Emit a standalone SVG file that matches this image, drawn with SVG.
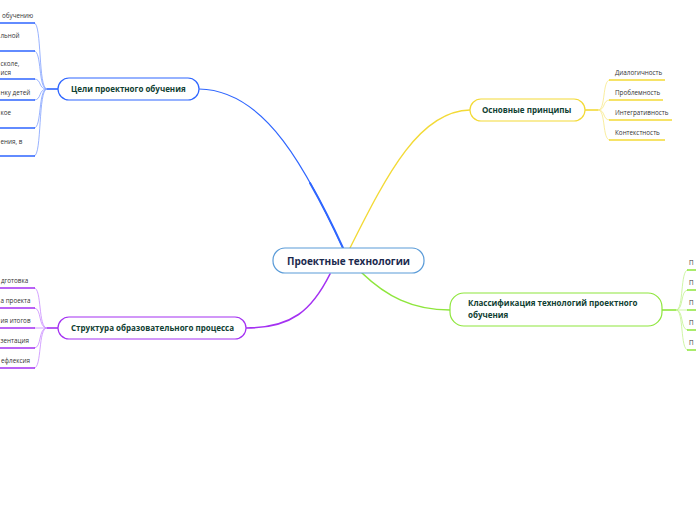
<svg xmlns="http://www.w3.org/2000/svg" width="696" height="520" viewBox="0 0 696 520">
<style>
  .bg{fill:#ffffff}
  .node{fill:#ffffff;stroke-width:1.2}
  .lbl{font-family:"Open Sans","Liberation Sans",sans-serif;font-weight:bold;font-size:8px;fill:#0f4032}
  .ctr{font-family:"Open Sans","Liberation Sans",sans-serif;font-weight:bold;font-size:10px;fill:#1b2a4e}
  .sm{font-family:"Open Sans","Liberation Sans",sans-serif;font-size:6.3px;fill:#333333}
  .main{fill:none;stroke-linecap:round}
  .br{fill:none;stroke-width:0.8}
  .ul{fill:none;stroke-width:1.6}
  .blue{stroke:#2f66ff}
  .blueL{stroke:#7f9fff}
  .purp{stroke:#a431f2}
  .purpL{stroke:#c98cff}
  .yel{stroke:#f3da36}
  .yelL{stroke:#f7e886}
  .grn{stroke:#8ee63c}
  .grnL{stroke:#c3f291}
</style>
<rect class="bg" x="0" y="0" width="696" height="520"/>
<g id="connectors">
  <path class="main blue" stroke-width="1.2" d="M199,89 C268,90 308,175 343,248"/>
  <path class="main blue" stroke-width="2" d="M310,183 C322,204 333,226 343,248"/>
  <path class="main yel" stroke-width="1.4" d="M350,248 C388,172 420,111 470,110"/>
  <path class="main purp" stroke-width="1.6" d="M330,274 C312,310 292,328 246,328"/>
  <path class="main grn" stroke-width="1.6" d="M362,273 C386,296 412,310 450,310"/>
  <!-- blue branches -->
  <path class="ul blue" d="M58,89 H47"/>
  <path class="br blueL" d="M47,89 C38,89 42,23 34,23"/>
  <path class="br blueL" d="M47,89 C38,89 42,51 34,51"/>
  <path class="br blueL" d="M47,89 C38,89 42,79 34,79"/>
  <path class="br blueL" d="M47,89 C38,89 42,100 34,100"/>
  <path class="br blueL" d="M47,89 C38,89 42,128 34,128"/>
  <path class="br blueL" d="M47,89 C38,89 42,156 34,156"/>
  <path class="ul blue" d="M0,23 H35 M0,51 H35 M0,79 H35 M0,100 H35 M0,128 H35 M0,156 H35"/>
  <!-- purple branches -->
  <path class="ul purp" d="M58,328 H47"/>
  <path class="br purpL" d="M47,328 C38,328 42,288 34,288"/>
  <path class="br purpL" d="M47,328 C38,328 42,308 34,308"/>
  <path class="br purpL" d="M47,328 H34"/>
  <path class="br purpL" d="M47,328 C38,328 42,348 34,348"/>
  <path class="br purpL" d="M47,328 C38,328 42,368 34,368"/>
  <path class="ul purp" d="M0,288 H35 M0,308 H35 M0,328 H35 M0,348 H35 M0,368 H35"/>
  <!-- yellow branches -->
  <path class="ul yel" d="M585,110 H598"/>
  <path class="br yelL" d="M598,110 C606,110 602,80 610,80"/>
  <path class="br yelL" d="M598,110 C606,110 602,100 610,100"/>
  <path class="br yelL" d="M598,110 C606,110 602,120 610,120"/>
  <path class="br yelL" d="M598,110 C606,110 602,140 610,140"/>
  <path class="ul yel" d="M609,80 H665 M609,100 H663 M609,120 H672 M609,140 H665"/>
  <!-- green branches -->
  <path class="ul grn" d="M662,310 H676"/>
  <path class="br grnL" d="M676,310 C684,310 680,270 688,270"/>
  <path class="br grnL" d="M676,310 C684,310 680,290 688,290"/>
  <path class="br grnL" d="M676,310 H688"/>
  <path class="br grnL" d="M676,310 C684,310 680,330 688,330"/>
  <path class="br grnL" d="M676,310 C684,310 680,350 688,350"/>
  <path class="ul grn" d="M687,270 H696 M687,290 H696 M687,310 H696 M687,330 H696 M687,350 H696"/>
</g>
<g id="center">
  <rect class="node" x="273" y="248" width="151" height="25" rx="12" stroke="#5a9bd8"/>
  <text class="ctr" x="348.5" y="264.5" text-anchor="middle">Проектные технологии</text>
</g>
<g id="goals">
  <rect class="node blue" x="58" y="78" width="141" height="22" rx="11"/>
  <text class="lbl" x="71" y="92">Цели проектного обучения</text>
</g>
<g id="goals-items">
  <text class="sm" x="2" y="18">обучению</text>
  <text class="sm" x="0.5" y="38">льной</text>
  <text class="sm" x="0.5" y="66">сколе,</text>
  <text class="sm" x="0.5" y="75">ися</text>
  <text class="sm" x="0.5" y="95">нку детей</text>
  <text class="sm" x="0.5" y="115">кое</text>
  <text class="sm" x="0.5" y="144">ения, в</text>
</g>
<g id="principles">
  <rect class="node yel" x="470" y="99" width="115" height="22" rx="11"/>
  <text class="lbl" x="482" y="113">Основные принципы</text>
</g>
<g id="principles-items">
  <text class="sm" x="615" y="75">Диалогичность</text>
  <text class="sm" x="615" y="95">Проблемность</text>
  <text class="sm" x="615" y="115">Интегративность</text>
  <text class="sm" x="615" y="135">Контекстность</text>
</g>
<g id="structure">
  <rect class="node purp" x="58" y="317" width="188" height="22" rx="11"/>
  <text class="lbl" x="71" y="331">Структура образовательного процесса</text>
</g>
<g id="structure-items">
  <text class="sm" x="1" y="283">дготовка</text>
  <text class="sm" x="0.5" y="303">а проекта</text>
  <text class="sm" x="0.5" y="323">ия итогов</text>
  <text class="sm" x="0.5" y="343">зентация</text>
  <text class="sm" x="1" y="363">ефлексия</text>
</g>
<g id="classification">
  <rect class="node grn" x="450" y="293" width="212" height="33" rx="14"/>
  <text class="lbl" x="468" y="306">Классификация технологий проектного</text>
  <text class="lbl" x="468" y="318">обучения</text>
</g>
<g id="classification-items">
  <text class="sm" x="689" y="265">П</text>
  <text class="sm" x="689" y="285">П</text>
  <text class="sm" x="689" y="305">П</text>
  <text class="sm" x="689" y="325">П</text>
  <text class="sm" x="689" y="345">П</text>
</g>
</svg>
